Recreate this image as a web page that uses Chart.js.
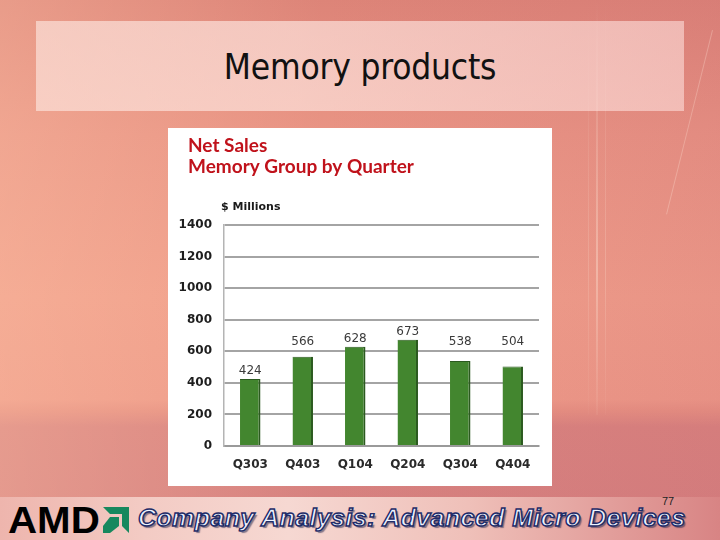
<!DOCTYPE html>
<html>
<head>
<meta charset="utf-8">
<script src="https://cdn.jsdelivr.net/npm/chart.js@4"></script>
<style>
  html, body { margin: 0; padding: 0; }
  body {
    width: 720px; height: 540px; overflow: hidden; position: relative;
    background:
      linear-gradient(90deg, rgba(255,200,170,0.35) 0%, rgba(255,200,170,0) 45%, rgba(190,90,110,0.15) 100%),
      linear-gradient(180deg, #dd8478 0%, #e99484 25%, #f09e8a 55%, #ee9a88 74%, #e79182 76%, #d9837f 79%, #d5807f 100%);
    font-family: "DejaVu Sans", sans-serif;
  }
  .streak {
    position: absolute; top: 0; height: 415px;
    background: linear-gradient(180deg, rgba(255,240,225,0.0), rgba(255,240,225,0.35) 65%, rgba(255,240,225,0.05));
  }
  #diag {
    position: absolute; left: 712px; top: 30px; width: 1px; height: 190px;
    background: rgba(255,230,215,0.3); transform: rotate(14deg); transform-origin: top left;
  }
  #titleBox {
    position: absolute; left: 36px; top: 21px; width: 648px; height: 90px;
    background: linear-gradient(90deg, rgba(255,236,230,0.6), rgba(255,232,226,0.66) 40%, rgba(255,225,222,0.58));
  }
  #titleBox h1 {
    margin: 0; font-weight: normal; color: #111;
    font-family: "DejaVu Sans Condensed", "DejaVu Sans", sans-serif;
    font-size: 35px; line-height: 92px; text-align: center; letter-spacing: -0.2px;
  }
  #chartBox {
    position: absolute; left: 168px; top: 128px; width: 384px; height: 358px;
    background: #fff;
  }
  #footer {
    position: absolute; left: 0; top: 497px; width: 720px; height: 43px;
    background: linear-gradient(90deg, #eeb5ad 0%, #f3cbc4 20%, #f6d8d2 40%, #efc0b9 65%, #d88484 100%);
  }
  #amd {
    position: absolute; left: 8px; top: 500px;
    font-family: "Liberation Sans", Arial, sans-serif; font-weight: bold;
    font-size: 36px; color: #000;
    transform-origin: left top; transform: scaleX(1.12);
  }
  #logo { position: absolute; left: 103px; top: 507px; }
  #tagline {
    position: absolute; left: 138px; top: 504px;
    font-family: "Liberation Sans", Arial, sans-serif; font-weight: bold; font-style: italic;
    font-size: 24px; color: #eef3ff; letter-spacing: 0.4px;
    -webkit-text-stroke: 1.4px #1f2c68;
    text-shadow: 2px 2px 1px rgba(40,40,80,0.55);
    transform-origin: left top; transform: scaleX(1.04);
    white-space: nowrap;
  }
  #page {
    position: absolute; left: 662px; top: 495px;
    font-family: "Liberation Sans", Arial, sans-serif; font-size: 11px; color: #222;
  }
</style>
</head>
<body>
<div class="streak" style="left:596px;width:2px;"></div>
<div class="streak" style="left:605px;width:1px;opacity:0.6"></div>
<div class="streak" style="left:588px;width:1px;opacity:0.5"></div>
<div id="diag"></div>
<div id="titleBox"><h1>Memory products</h1></div>
<div id="chartBox"><canvas id="memChart" width="384" height="358"></canvas></div>
<div id="footer"></div>
<div id="amd">AMD</div>
<svg id="logo" width="26" height="26" viewBox="0 0 26 26">
  <path d="M0 0 H26 V26 L19 19 V7 H7 Z" fill="#17885e"/>
  <path d="M7 10 H16 V19 L7 26 H0 V19 Z" fill="#17885e"/>
</svg>
<div id="tagline">Company Analysis: Advanced Micro Devices</div>
<div id="page">77</div>

<script>
// Data
const quarters = ["Q303", "Q403", "Q104", "Q204", "Q304", "Q404"];
const netSales = [424, 566, 628, 673, 538, 504];
const yTicks = [0, 200, 400, 600, 800, 1000, 1200, 1400];

const titleLines = ["Net Sales", "Memory Group by Quarter"];
const unitLabel = "$ Millions";

// chart heading, unit caption and value labels
const chartText = {
  id: "chartText",
  afterDatasetsDraw(chart) {
    const ctx = chart.ctx;
    const area = chart.chartArea;
    const yScale = chart.scales.y;
    const gridYs = yTicks.map((v) => yScale.getPixelForValue(v));
    ctx.save();

    // two-line red heading
    ctx.font = "bold 19px Lato";
    ctx.fillStyle = "#c0121b";
    ctx.textAlign = "left";
    ctx.textBaseline = "alphabetic";
    titleLines.forEach((line, i) => ctx.fillText(line, 20, 24 + i * 21));

    // unit caption above the plot
    ctx.font = "bold 11px 'DejaVu Sans'";
    ctx.fillStyle = "#1a1a1a";
    ctx.fillText(unitLabel, area.left - 3, area.top - 15);

    // value labels above bars, moved above a gridline if they would sit on it
    ctx.font = "12px 'DejaVu Sans'";
    ctx.fillStyle = "#3a3a3a";
    ctx.textAlign = "center";
    ctx.textBaseline = "middle";
    chart.getDatasetMeta(0).data.forEach((bar, i) => {
      let y = bar.y - 8;
      gridYs.forEach((g) => {
        if (Math.abs(y - g) < 8.5) y = g - 9;
      });
      ctx.fillText(String(netSales[i]), bar.x, y);
    });
    ctx.restore();
  },
};

const canvas = document.getElementById("memChart").getContext("2d");

const memChart = new Chart(canvas, {
  type: "bar",
  data: {
    labels: quarters,
    datasets: [
      {
        label: "Net Sales",
        data: netSales,
        backgroundColor: "#43862f",
        borderColor: "#2b5a1f",
        borderWidth: { top: 1, right: 2, bottom: 0, left: 0 },
        borderSkipped: false,
        categoryPercentage: 1,
        barPercentage: 0.39,
      },
    ],
  },
  options: {
    responsive: false,
    animation: false,
    layout: { padding: { left: 8, right: 13, top: 97, bottom: 0 } },
    plugins: {
      legend: { display: false },
      tooltip: { enabled: false },
      title: { display: false },
    },
    scales: {
      x: {
        grid: {
          drawTicks: false,
          lineWidth: 1.5,
          color: (c) => (c.index === quarters.length ? "#b0b0b0" : "rgba(0,0,0,0)"),
        },
        border: { display: true, color: "#9a9a9a", width: 2 },
        ticks: {
          color: "#2a2a2a",
          padding: 12,
          font: { family: "DejaVu Sans", size: 12, weight: "bold" },
        },
        afterFit: (scale) => { scale.height = 40; },
      },
      y: {
        min: 0,
        max: 1400,
        ticks: {
          stepSize: 200,
          color: "#1e1e1e",
          padding: 12,
          font: { family: "DejaVu Sans", size: 12, weight: "bold" },
          callback: (value) => String(value),
        },
        grid: { drawTicks: false, color: "#a4a4a4", lineWidth: 2 },
        border: { display: true, color: "#b4b4b4", width: 1.5 },
        afterFit: (scale) => { scale.width = 48; },
      },
    },
  },
  plugins: [chartText],
});
</script>
</body>
</html>
